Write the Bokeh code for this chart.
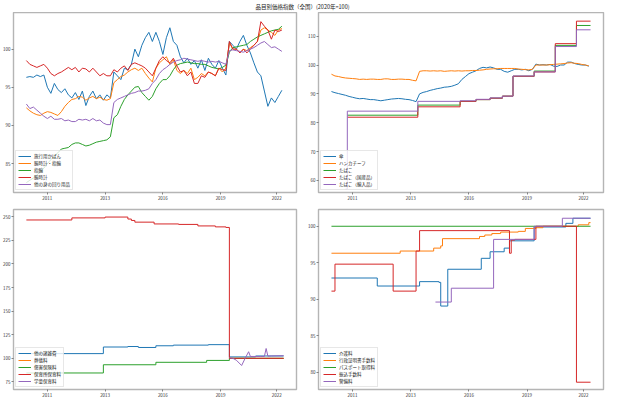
from bokeh.plotting import figure
from bokeh.layouts import column, row
from bokeh.models import FixedTicker, Range1d
from bokeh.embed import file_html
from bokeh.resources import INLINE
from bokeh.core.properties import value

FONT = "Noto Sans CJK JP"
COLORS = ["#1f77b4", "#ff7f0e", "#2ca02c", "#d62728", "#9467bd"]
TITLE = "品目別価格指数（全国）(2020年=100)"

X_TICKS = [12, 45, 78, 111, 143]
X_TICK_LABELS = ["2011", "2013", "2016", "2019", "2022"]
MONTHS_BI = list(range(0, 148, 2))

# ---------- top-left ----------
TL_NAMES = ["旅行用かばん", "腕時計・指輪", "指輪", "腕時計", "他の身の回り用品"]
bag = [96.3, 96.4, 96.3, 96.6, 96.4, 96.6, 95.0, 94.2, 95.5, 94.7,
       94.3, 94.8, 94.0, 93.6, 94.3, 93.4, 94.5, 92.6, 93.8, 94.5,
       93.5, 94.0, 93.3, 94.0, 93.6, 97.0, 96.5, 96.0, 97.5, 97.3,
       98.0, 100.0, 99.0, 100.5, 101.5, 102.2, 101.0, 102.2, 101.0, 99.3,
       101.5, 102.8, 101.0, 100.5, 99.0, 98.2, 98.8, 98.0, 98.5, 97.5,
       98.6, 97.2, 98.8, 98.0, 97.5, 98.5, 97.5, 96.6, 101.0, 100.5,
       100.0, 101.0, 101.8, 100.5, 99.5, 98.2, 97.0, 96.5, 94.5, 92.5,
       93.6, 93.0, 93.8, 94.6]
watch_ring = [92.3, 91.9, 91.6, 91.4, 91.3, 91.6, 91.8, 91.7, 91.5, 91.3,
              91.8, 92.5, 93.0, 93.4, 93.5, 93.8, 93.7, 93.3, 93.6, 93.8,
              93.5, 93.7, 93.4, 93.3, 93.5, 95.6, 96.0, 96.4, 96.6, 97.0,
              97.3, 97.5, 97.2, 97.5, 96.8, 96.2, 95.7, 97.5, 98.2, 98.6,
              99.0, 98.0, 98.6, 97.2, 96.8, 97.2, 96.8, 97.5, 96.0, 96.3,
              96.8, 96.5, 97.0, 96.8, 96.5, 97.5, 97.0, 97.5, 100.8, 100.0,
              100.0, 99.5, 100.0, 99.8, 100.2, 100.5, 101.0, 102.5, 102.8, 102.5,
              102.2, 101.8, 102.5, 102.7]
ring = [82.5, 82.8, 83.1, 83.5, 83.9, 84.4, 85.0, 85.5, 86.0, 86.4,
        86.9, 87.0, 87.1, 87.5, 87.7, 87.7, 87.5, 87.3, 87.4, 87.6,
        87.8, 87.9, 88.0, 88.1, 88.5, 91.0, 91.4, 92.5, 93.4, 94.0,
        94.5, 95.0, 95.1, 94.3, 93.8, 93.3, 93.8, 94.8, 95.5, 96.0,
        96.0, 96.5, 97.3, 97.9, 98.1, 98.2, 98.3, 98.2, 98.1, 98.1,
        98.0, 98.0, 97.8, 97.6, 97.5, 97.4, 97.6, 97.9, 99.6, 100.2,
        100.3, 100.4, 100.5, 100.6, 101.0, 101.3, 101.6, 101.8, 102.0, 102.2,
        102.4, 102.5, 102.6, 103.0]
watch = [98.5, 98.0, 97.8, 97.6, 97.8, 98.0, 97.5, 96.8, 96.5, 96.8,
         97.0, 97.3, 97.6, 97.3, 97.6, 97.0, 97.5, 97.4, 97.0, 97.5,
         97.0, 96.5, 96.8, 96.5, 96.5, 97.3, 97.0, 97.5, 97.8, 97.2,
         98.0, 98.2, 98.0, 97.8, 97.5, 97.0, 96.5, 97.5, 98.5, 99.0,
         98.5, 98.2, 98.8, 97.8, 97.0, 97.2, 96.5, 97.0, 95.5, 95.5,
         96.5, 96.3, 97.0, 96.8, 96.5, 97.5, 97.3, 97.2, 101.0, 100.0,
         100.0, 99.5, 100.0, 99.5, 100.0, 100.5, 101.0, 103.6, 103.0, 102.5,
         101.3, 102.5, 102.3, 102.5]
personal = [92.8, 92.2, 92.4, 92.0, 91.6, 91.2, 90.9, 91.2, 90.8, 90.8,
            90.9, 90.6, 90.7, 90.5, 90.5, 90.8, 90.7, 90.8, 90.6, 90.9,
            90.6, 90.7, 90.3, 90.1, 90.1, 93.0, 93.4, 93.6, 93.8, 94.0,
            94.2, 94.3, 94.5, 94.5, 94.6, 94.8, 95.5, 96.0, 96.8, 97.3,
            97.6, 98.0, 98.3, 98.5, 98.6, 98.8, 98.7, 98.6, 98.5, 98.4,
            98.5, 98.4, 98.3, 98.4, 98.3, 98.4, 98.2, 98.0, 99.8, 99.9,
            99.8, 99.7, 99.6, 99.8, 100.0, 100.2, 100.5, 100.8, 101.0, 100.6,
            100.2, 100.3, 100.0, 99.7]

# ---------- top-right ----------
TR_NAMES = ["傘", "ハンカチーフ", "たばこ", "たばこ（国産品）", "たばこ（輸入品）"]
umbrella = [90.8, 90.4, 90.1, 89.8, 89.5, 89.1, 88.8, 88.5, 88.3, 88.4,
            88.2, 88.0, 88.0, 87.8, 87.6, 87.8, 88.0, 88.2, 88.3, 88.4,
            88.3, 88.1, 88.0, 87.7, 87.3, 90.0, 90.5, 90.8, 91.2, 91.5,
            91.8, 92.0, 92.3, 92.4, 92.6, 93.0, 93.5, 95.0, 96.0, 97.0,
            97.5, 98.0, 98.8, 99.2, 99.0, 99.3, 99.0, 98.5, 98.5, 97.8,
            97.5, 98.0, 98.5, 98.5, 98.3, 98.5, 98.0, 98.5, 100.3, 100.0,
            100.1, 100.0, 100.2, 99.6, 99.5, 100.0, 100.0, 101.0, 101.0, 100.5,
            100.2, 100.0, 100.0, 99.6]
handkerchief = [96.8, 96.2, 96.0, 95.7, 95.5, 95.4, 95.3, 95.2, 95.0, 95.1,
                95.0, 95.1, 95.1, 95.0, 95.0, 95.2, 95.2, 95.0, 95.0, 95.1,
                95.1, 95.0, 95.0, 94.7, 94.5, 97.8, 98.0, 98.0, 97.9, 98.0,
                97.9, 98.0, 97.8, 97.9, 98.0, 97.9, 98.0, 97.9, 98.0, 98.0,
                98.1, 98.1, 98.2, 98.3, 98.5, 98.6, 98.7, 98.7, 98.8, 98.8,
                98.8, 98.8, 98.8, 98.6, 98.5, 98.4, 98.3, 98.5, 100.0, 100.0,
                100.0, 100.0, 100.1, 100.2, 100.3, 100.4, 100.5, 100.7, 100.8, 100.6,
                100.5, 100.2, 100.0, 99.7]
tob_x = [9, 49, 73, 82, 90, 97, 103, 115, 127, 139, 147]
tobacco = [82.6, 86.1, 87.4, 88.0, 88.5, 89.2, 96.1, 97.9, 106.8, 113.7, 113.7]
tobacco_dom = [81.9, 85.5, 87.4, 88.0, 88.5, 89.2, 96.1, 97.6, 107.4, 115.2, 115.2]
tob_imp_x = [8, 9, 49, 73, 82, 90, 97, 103, 115, 127, 139, 147]
tobacco_imp = [57.0, 84.0, 87.4, 87.6, 88.1, 88.6, 89.2, 96.2, 97.6, 106.4, 112.2, 112.2]

# ---------- bottom-left ----------
BL_NAMES = ["他の諸雑費", "葬儀料", "傷害保険料", "保育所保育料", "学童保育料"]
misc_x = [0, 44, 58, 64, 74, 84, 104, 116, 131, 147]
misc = [105.0, 112.0, 112.5, 111.5, 113.3, 114.0, 114.5, 101.5, 102.5, 102.5]
funeral_x = [116, 147]
funeral = [100.0, 100.0]
injury_x = [0, 44, 74, 103, 116, 147]
injury = [84.5, 93.2, 95.8, 97.8, 100.0, 100.0]
nursery_x = [0, 26, 45, 58, 60, 62, 73, 87, 98, 108, 114, 116, 147]
nursery = [246.5, 248.7, 249.6, 247.5, 246.0, 244.2, 242.3, 241.8, 240.2, 239.2, 238.6, 100.0, 100.0]
afterschool_x = [116, 118, 120, 123, 125, 127, 128, 130, 134, 136, 137, 138, 140, 147]
afterschool = [100.7, 100.0, 98.0, 92.4, 100.0, 107.0, 102.0, 102.0, 102.0, 102.0, 110.4, 102.3, 102.5, 102.8]

# ---------- bottom-right ----------
BR_NAMES = ["介護料", "行政証明書手数料", "パスポート取得料", "振込手数料", "警備料"]
care_x = [0, 26, 50, 61, 62, 66, 85, 90, 98, 101, 115, 133, 137, 147]
care = [92.9, 91.8, 92.4, 92.3, 89.05, 94.1, 95.6, 96.5, 97.0, 98.0, 99.9, 100.4, 101.1, 101.1]
cert_x = [0, 39, 58, 62, 63, 84, 87, 91, 96, 106, 110, 116, 120, 140, 146, 147]
cert = [96.3, 96.6, 97.0, 97.3, 98.3, 98.6, 98.8, 99.0, 99.2, 99.3, 99.7, 99.8, 100.0, 100.2, 100.5, 100.5]
passport_x = [0, 147]
passport = [100.0, 100.0]
transfer_x = [0, 2, 35, 48, 50, 101, 102, 104, 116, 139, 147]
transfer = [91.1, 94.8, 91.1, 96.6, 99.4, 96.3, 98.1, 98.2, 100.0, 78.6, 78.6]
security_x = [59, 68, 92, 115, 131, 147]
security = [89.6, 91.5, 98.2, 100.0, 101.1, 101.1]


def make_fig(left, fw, right, top, fh, bottom, y0, y1, yticks):
    p = figure(frame_width=fw, frame_height=fh, min_border_left=left,
               min_border_right=right, min_border_top=top, min_border_bottom=bottom,
               x_range=Range1d(-7.35, 154.35), y_range=Range1d(y0, y1),
               output_backend="svg", toolbar_location=None)
    p.grid.visible = False
    p.outline_line_color = "#b5b5b5"
    p.outline_line_width = 1.4
    p.background_fill_color = "white"
    p.border_fill_color = "white"
    for ax in (p.xaxis[0], p.yaxis[0]):
        ax.axis_line_color = None
        ax.major_tick_out = 2
        ax.major_tick_in = 0
        ax.major_tick_line_color = "#555555"
        ax.major_tick_line_width = 0.7
        ax.minor_tick_line_color = None
        ax.major_label_standoff = 1
        ax.major_label_text_font = FONT
        ax.major_label_text_font_size = "4.5px"
        ax.major_label_text_color = "#333333"
    p.xaxis.ticker = FixedTicker(ticks=X_TICKS)
    p.xaxis.major_label_overrides = {t: l for t, l in zip(X_TICKS, X_TICK_LABELS)}
    p.yaxis.ticker = FixedTicker(ticks=yticks)
    return p


def style_legend(p):
    lg = p.legend[0]
    lg.location = "bottom_left"
    lg.label_text_font = FONT
    lg.label_text_font_size = "4.5px"
    lg.label_text_color = "#222222"
    lg.label_height = 6
    lg.glyph_height = 6
    lg.glyph_width = 13
    lg.label_standoff = 3
    lg.spacing = 1
    lg.padding = 2
    lg.margin = 2
    lg.border_line_color = "#d0d0d0"
    lg.border_line_width = 0.8
    lg.background_fill_alpha = 0.8


LW = 1.0

# title strip
pt = figure(width=604, height=12, x_range=Range1d(0, 1), y_range=Range1d(0, 1),
            min_border=0, output_backend="svg", toolbar_location=None,
            x_axis_type=None, y_axis_type=None)
pt.grid.visible = False
pt.outline_line_color = None
pt.text(x=[0.5], y=[0.5], text=[TITLE], text_font=value(FONT), text_font_size="5.5px",
        text_align="center", text_baseline="middle", text_color="#222222")

# TL
p1 = make_fig(12, 283, 5, 0, 180, 9, 81.2, 104.8, [85, 90, 95, 100])
for ys, c, n in zip([bag, watch_ring, ring, watch, personal], COLORS, TL_NAMES):
    p1.line(MONTHS_BI, ys, line_color=c, line_width=LW, legend_label=n)
style_legend(p1)

# TR
p2 = make_fig(17, 285, 2, 0, 180, 9, 55.8, 118.2, [60, 70, 80, 90, 100, 110])
p2.line(MONTHS_BI, umbrella, line_color=COLORS[0], line_width=LW, legend_label=TR_NAMES[0])
p2.line(MONTHS_BI, handkerchief, line_color=COLORS[1], line_width=LW, legend_label=TR_NAMES[1])
p2.step(tob_x, tobacco, mode="after", line_color=COLORS[2], line_width=LW, legend_label=TR_NAMES[2])
p2.step(tob_x, tobacco_dom, mode="after", line_color=COLORS[3], line_width=LW, legend_label=TR_NAMES[3])
p2.step(tob_imp_x, tobacco_imp, mode="after", line_color=COLORS[4], line_width=LW, legend_label=TR_NAMES[4])
style_legend(p2)

# BL
p3 = make_fig(12, 283, 5, 7, 180, 9, 67.0, 257.6, [75, 100, 125, 150, 175, 200, 225, 250])
p3.step(misc_x, misc, mode="after", line_color=COLORS[0], line_width=LW, legend_label=BL_NAMES[0])
p3.step(funeral_x, funeral, mode="after", line_color=COLORS[1], line_width=LW, legend_label=BL_NAMES[1])
p3.step(injury_x, injury, mode="after", line_color=COLORS[2], line_width=LW, legend_label=BL_NAMES[2])
p3.step(nursery_x, nursery, mode="after", line_color=COLORS[3], line_width=LW, legend_label=BL_NAMES[3])
p3.line(afterschool_x, afterschool, line_color=COLORS[4], line_width=LW, legend_label=BL_NAMES[4])
style_legend(p3)

# BR
p4 = make_fig(17, 285, 2, 7, 180, 9, 77.6, 102.3, [80, 85, 90, 95, 100])
p4.step(care_x, care, mode="after", line_color=COLORS[0], line_width=LW, legend_label=BR_NAMES[0])
p4.step(cert_x, cert, mode="after", line_color=COLORS[1], line_width=LW, legend_label=BR_NAMES[1])
p4.step(passport_x, passport, mode="after", line_color=COLORS[2], line_width=LW, legend_label=BR_NAMES[2])
p4.step(transfer_x, transfer, mode="after", line_color=COLORS[3], line_width=LW, legend_label=BR_NAMES[3])
p4.step(security_x, security, mode="after", line_color=COLORS[4], line_width=LW, legend_label=BR_NAMES[4])
style_legend(p4)

layout = column(pt, row(p1, p2), row(p3, p4))
open("out.html", "w").write(file_html(layout, INLINE))
